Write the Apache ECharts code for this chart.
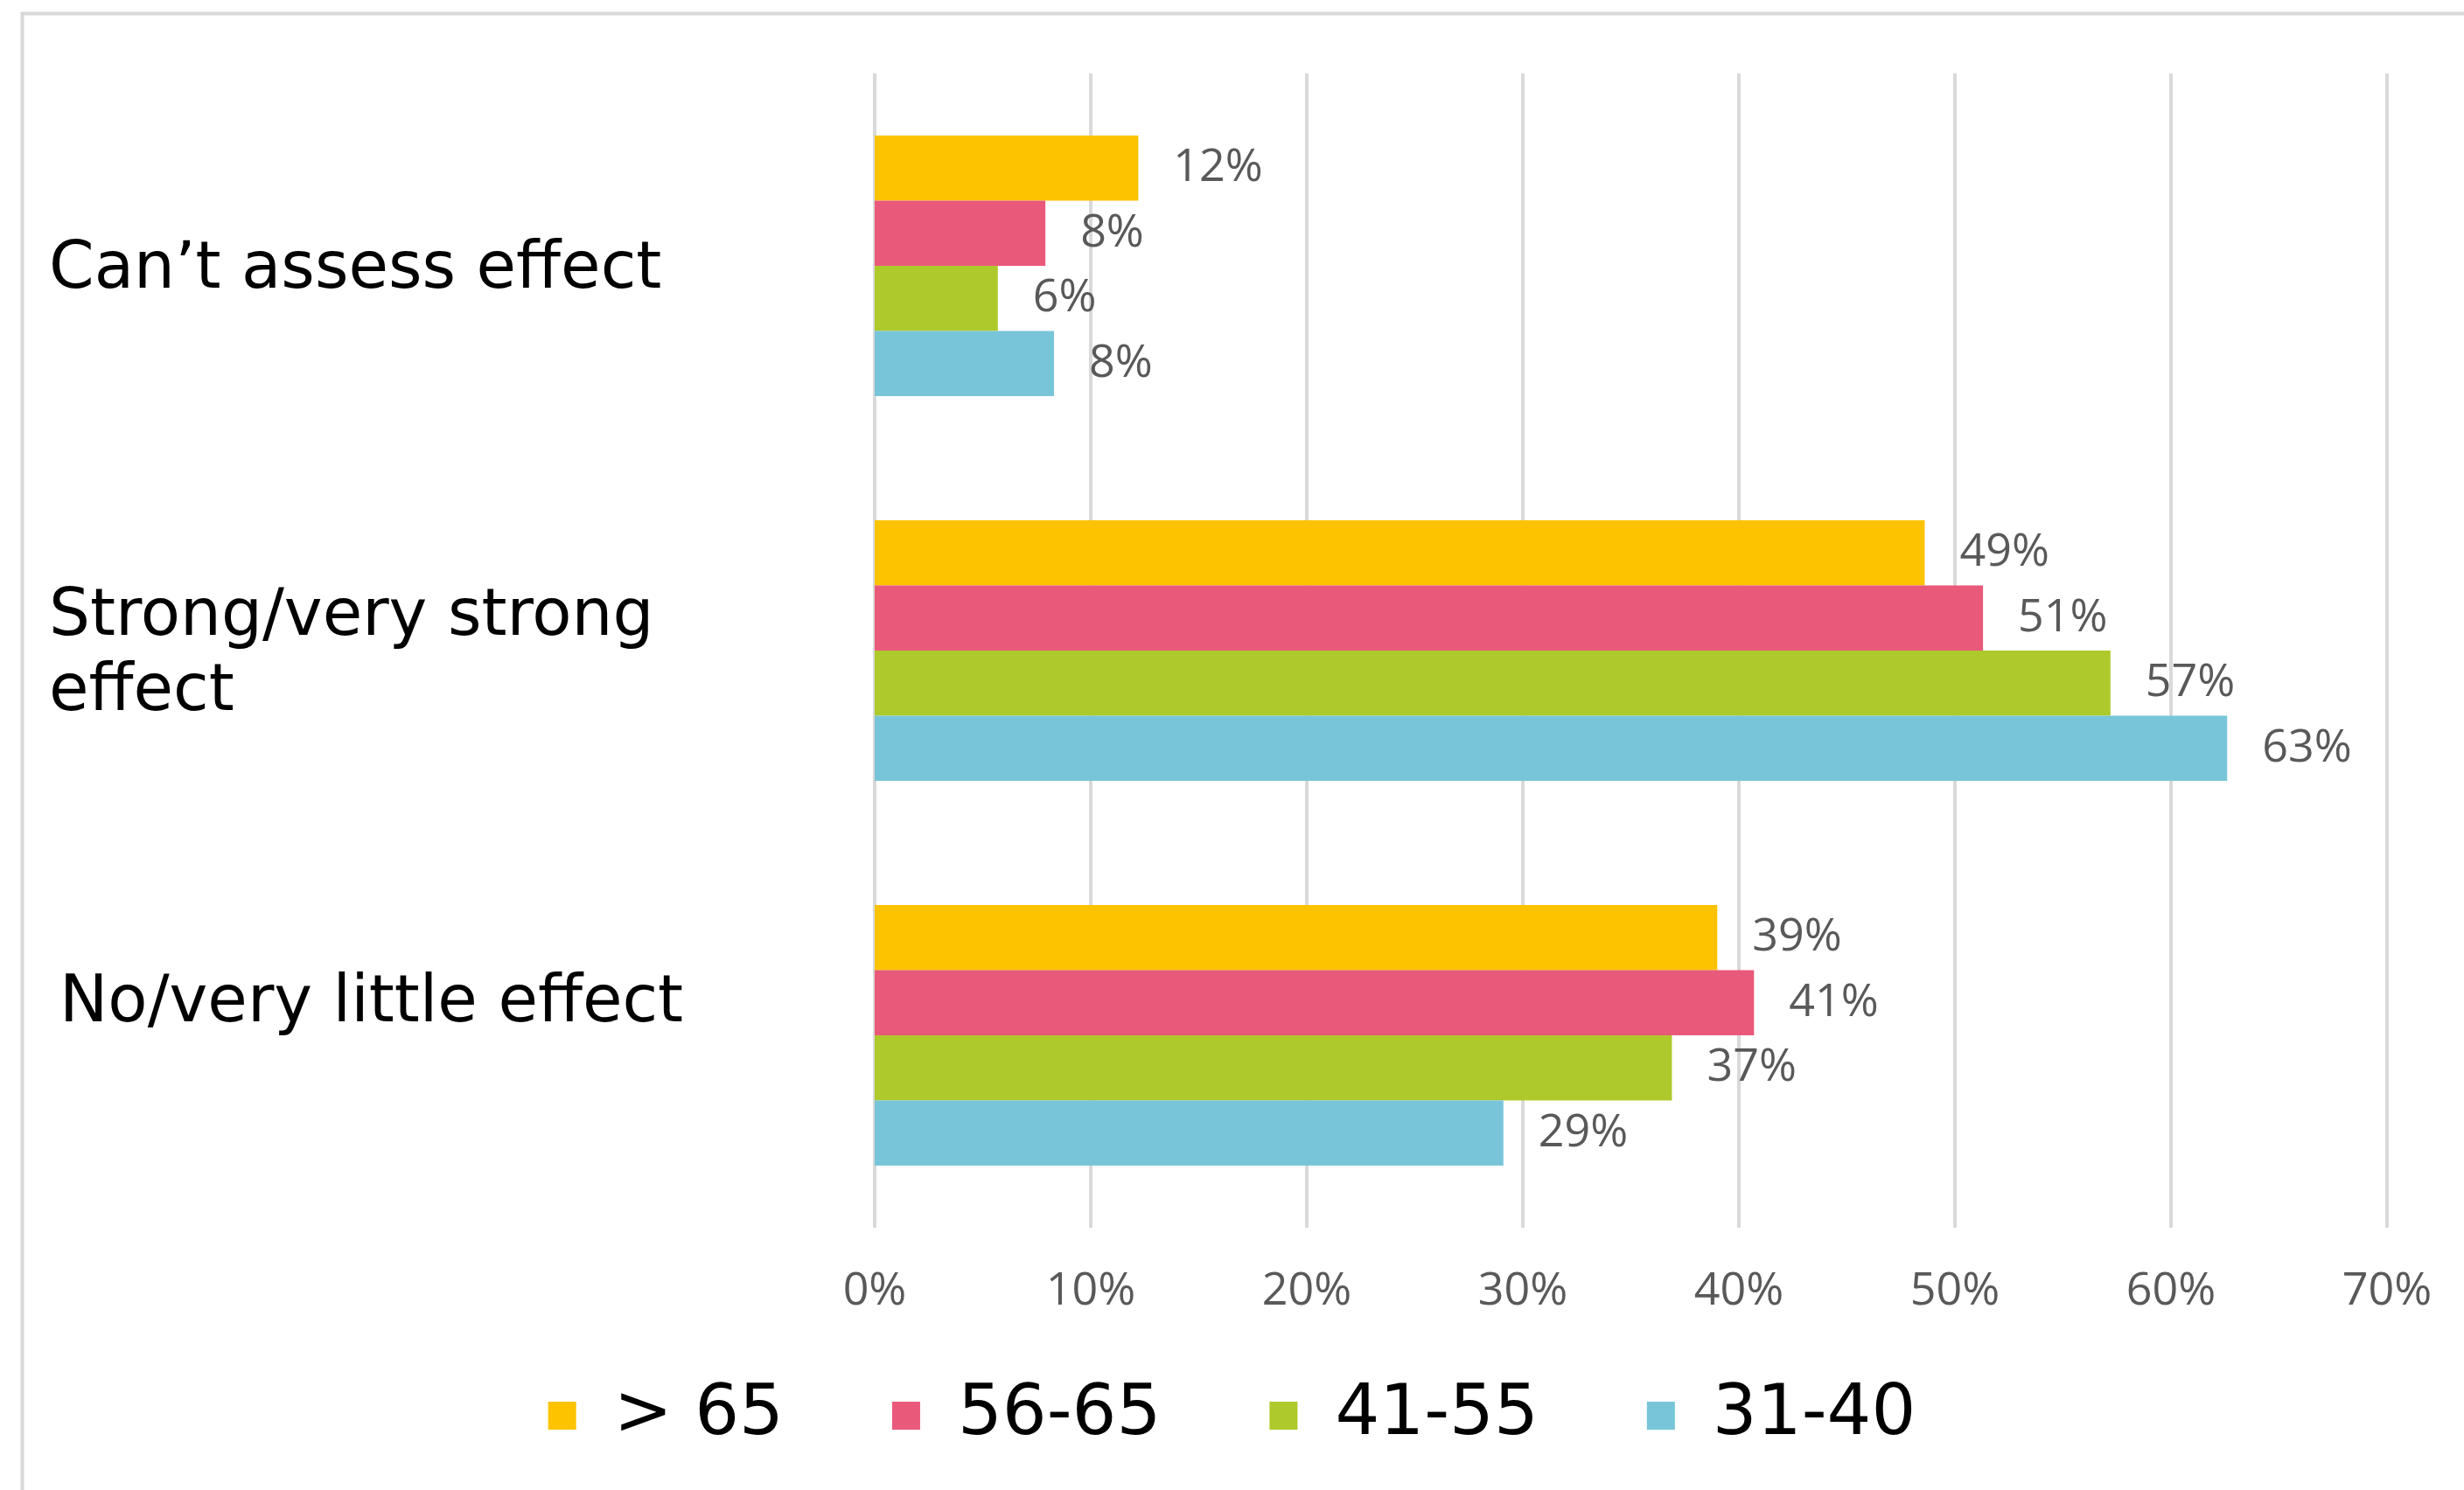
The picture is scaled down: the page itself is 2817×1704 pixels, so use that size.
<!DOCTYPE html>
<html>
<head>
<meta charset="utf-8">
<script src="https://cdn.jsdelivr.net/npm/echarts@6/dist/echarts.min.js"></script>
<style>
  html, body { margin: 0; padding: 0; background: #fff; }
  #chart { width: 2817px; height: 1704px; }
</style>
</head>
<body>
<div id="chart"></div>
<script>
// categories, top to bottom
const categories = ['Can’t assess effect', 'Strong/very strong\neffect', 'No/very little effect']

// age groups (legend order)
const groups = ['> 65', '56-65', '41-55', '31-40']
const colors = ['#fdc300', '#e9597a', '#aec92b', '#78c5d9']

// percentages
const over65 = [12.2, 48.6, 39.0]
const age5665 = [7.9, 51.3, 40.7]
const age4155 = [5.7, 57.2, 36.9]
const age3140 = [8.3, 62.6, 29.1]

const xTicks = [0, 10, 20, 30, 40, 50, 60, 70]

const seriesData = [over65, age5665, age4155, age3140]

const chart = echarts.init(document.getElementById('chart'))

const labelFont = 'Open Sans'
const catFont = 'DejaVu Sans'

chart.setOption({
  animation: false,
  backgroundColor: '#fff',
  graphic: [{
    type: 'rect',
    left: 23,
    top: 13,
    shape: { width: 2900, height: 1800 },
    style: { fill: 'none', stroke: '#d9d9d9', lineWidth: 4 },
    silent: true
  }],
  grid: {
    left: 1000,
    right: 88,
    top: 84,
    bottom: 300,
    containLabel: false
  },
  legend: {
    data: groups,
    left: 'center',
    top: 1579,
    padding: 0,
    itemWidth: 32,
    itemHeight: 32,
    itemGap: 124,
    icon: 'rect',
    textStyle: {
      fontFamily: catFont,
      fontSize: 80,
      color: '#000',
      padding: [0, 0, 0, 38]
    }
  },
  xAxis: {
    type: 'value',
    min: xTicks[0],
    max: xTicks[xTicks.length - 1],
    interval: 10,
    axisLine: { show: false },
    axisTick: { show: false },
    splitLine: { show: true, lineStyle: { color: '#d9d9d9', width: 4 } },
    axisLabel: {
      formatter: '{value}%',
      fontFamily: labelFont,
      fontSize: 52,
      color: '#595959',
      margin: 47
    }
  },
  yAxis: {
    type: 'category',
    inverse: true,
    data: categories,
    axisLine: { show: false },
    axisTick: { show: false },
    splitLine: { show: false },
    axisLabel: {
      interval: 0,
      align: 'left',
      margin: 944,
      padding: [12, 0, 0, 0],
      fontFamily: catFont,
      fontSize: 74,
      lineHeight: 86,
      color: '#000',
      formatter: (v, i) => i === 2 ? '{shift|' + v + '}' : v,
      rich: {
        shift: {
          fontFamily: catFont,
          fontSize: 74,
          lineHeight: 86,
          color: '#000',
          padding: [0, 0, 82, 12]
        }
      }
    }
  },
  series: groups.map((name, i) => ({
    name: name,
    type: 'bar',
    data: seriesData[i],
    barGap: '0%',
    barCategoryGap: '32.3%',
    itemStyle: { color: colors[i] },
    label: {
      show: true,
      position: 'right',
      distance: 40,
      formatter: p => Math.round(p.value) + '%',
      fontFamily: labelFont,
      fontSize: 52,
      color: '#595959'
    }
  }))
})
</script>
</body>
</html>
